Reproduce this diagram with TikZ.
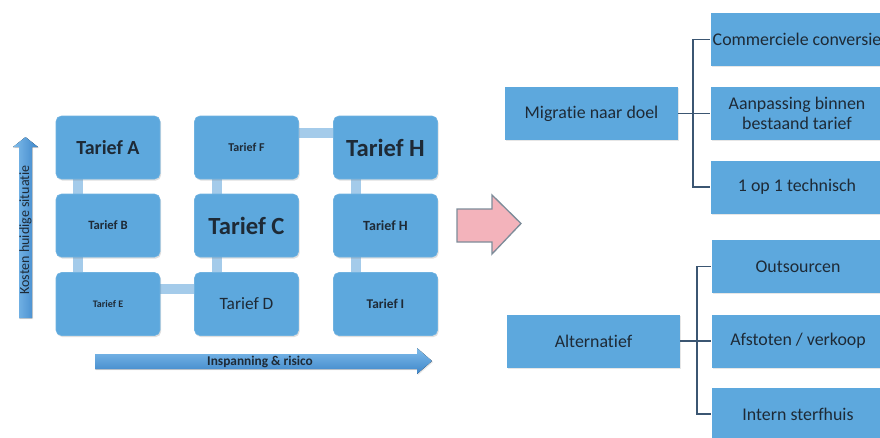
\documentclass[tikz,border=0pt]{standalone}
\usepackage{fontspec}
\setmainfont{Carlito}[Ligatures=NoCommon]
\usetikzlibrary{shadows,backgrounds}
\definecolor{boxblue}{HTML}{5DA8DD}
\definecolor{boxedge}{HTML}{6FB2E0}
\definecolor{linkblue}{HTML}{A4CBEA}
\definecolor{txt}{HTML}{1E2A36}
\definecolor{treeline}{HTML}{3B5672}
\definecolor{arrowlight}{HTML}{7FBCEB}
\definecolor{arrowdark}{HTML}{3E86C9}
\definecolor{pinkfill}{HTML}{F3B3BB}
\definecolor{pinkedge}{HTML}{7D8C99}
\tikzset{
  tbox/.style={rectangle, rounded corners=4pt, fill=boxblue, draw=boxedge,
    minimum width=78pt, minimum height=47.25pt, text=txt, inner sep=1pt,
    drop shadow={opacity=0.25, shadow xshift=0.8pt, shadow yshift=-1.2pt}},
  rbox/.style={rectangle, fill=boxblue, text=txt, minimum width=129.75pt,
    minimum height=39.75pt, align=center, inner sep=1pt, font=\fontsize{13.4}{14.5}\selectfont,
    drop shadow={opacity=0.2, shadow xshift=0.8pt, shadow yshift=-1pt}},
  pbox/.style={rbox, minimum width=129.75pt},
  link/.style={draw=linkblue, line width=7.5pt},
  tree/.style={draw=treeline, line width=1.1pt},
}
\begin{document}
\begin{tikzpicture}[x=0.75pt, y=-0.75pt]
\useasboundingbox (0,0) rectangle (880,437);
\clip (0,0) rectangle (880,437);

% tariff grid
\node[tbox, font=\bfseries\fontsize{15}{16}\selectfont] (ta) at (108,147.5) {Tarief A};
\node[tbox, font=\bfseries\fontsize{9.5}{10}\selectfont] (tb) at (108,225.5) {Tarief B};
\node[tbox, font=\bfseries\fontsize{7.5}{8}\selectfont] (te) at (108,304) {Tarief E};
\node[tbox, font=\bfseries\fontsize{9}{10}\selectfont] (tf) at (246.5,147.5) {Tarief F};
\node[tbox, font=\bfseries\fontsize{18.5}{19}\selectfont] (tc) at (246.5,225.5) {Tarief C};
\node[tbox, font=\fontsize{13}{14}\selectfont] (td) at (246.5,304) {Tarief D};
\node[tbox, font=\bfseries\fontsize{18.5}{19}\selectfont] (th) at (385.5,147.5) {Tarief H};
\node[tbox, font=\bfseries\fontsize{10.5}{11}\selectfont] (th2) at (385.5,225.5) {Tarief H};
\node[tbox, font=\bfseries\fontsize{10}{11}\selectfont] (ti) at (385.5,304) {Tarief I};

\begin{pgfonlayer}{background}
  \draw[link] ([xshift=-22.5pt]ta.south) -- ([xshift=-22.5pt]tb.north);
  \draw[link] ([xshift=-22.5pt]tb.south) -- ([xshift=-22.5pt]te.north);
  \draw[link] ([xshift=-22.5pt]tf.south) -- ([xshift=-22.5pt]tc.north);
  \draw[link] ([xshift=-22.5pt]tc.south) -- ([xshift=-22.5pt]td.north);
  \draw[link] ([xshift=-22.5pt]th.south) -- ([xshift=-22.5pt]th2.north);
  \draw[link] ([xshift=-22.5pt]th2.south) -- ([xshift=-22.5pt]ti.north);
  \draw[link] ([yshift=11pt]te.east) -- ([yshift=11pt]td.west);
  \draw[link] ([yshift=11pt]tf.east) -- ([yshift=11pt]th.west);
\end{pgfonlayer}

% vertical axis arrow
\fill[left color=arrowlight, right color=arrowdark, drop shadow={opacity=0.2, shadow xshift=0.8pt, shadow yshift=-0.8pt}]
  (19,318) -- (19,147) -- (13,147) -- (25.5,137) -- (38,147) -- (32,147) -- (32,318) -- cycle;
\node[rotate=90, text=txt, font=\fontsize{10.5}{11}\selectfont] (ylab) at (25.5,230) {Kosten huidige situatie};

% horizontal axis arrow
\fill[top color=arrowlight, bottom color=arrowdark, drop shadow={opacity=0.2, shadow xshift=0.8pt, shadow yshift=-0.8pt}]
  (95,354) -- (417,354) -- (417,348) -- (432,361) -- (417,374) -- (417,369) -- (95,369) -- cycle;
\node[text=txt, font=\bfseries\fontsize{10}{11}\selectfont] (xlab) at (260,361.5) {Inspanning \& risico};

% transition arrow
\draw[draw=pinkedge, line width=1pt, fill=pinkfill, line join=miter]
  (457,209) -- (492,209) -- (492,195) -- (521,223.5) -- (492,254) -- (492,242) -- (457,242) -- cycle;

% migration tree
\node[pbox] (mig) at (591.5,113.5) {Migratie naar doel};
\node[rbox] (c1) at (797,39.5) {Commerciele conversie};
\node[rbox] (c2) at (797,113.5) {Aanpassing binnen\\bestaand tarief};
\node[rbox] (c3) at (797,187) {1 op 1 technisch};
\coordinate (mj) at (693,113.5);
\draw[tree] (mig.east) -- (mj);
\draw[tree] (mj) |- (c1.west);
\draw[tree] (mj) -- (c2.west);
\draw[tree] (mj) |- (c3.west);

% alternative tree
\node[pbox] (alt) at (593.5,341) {Alternatief};
\node[rbox] (a1) at (798,266.5) {Outsourcen};
\node[rbox] (a2) at (798,341) {Afstoten / verkoop};
\node[rbox] (a3) at (798,414) {Intern sterfhuis};
\coordinate (aj) at (697,341);
\draw[tree] (alt.east) -- (aj);
\draw[tree] (aj) |- (a1.west);
\draw[tree] (aj) -- (a2.west);
\draw[tree] (aj) |- (a3.west);
\end{tikzpicture}
\end{document}
